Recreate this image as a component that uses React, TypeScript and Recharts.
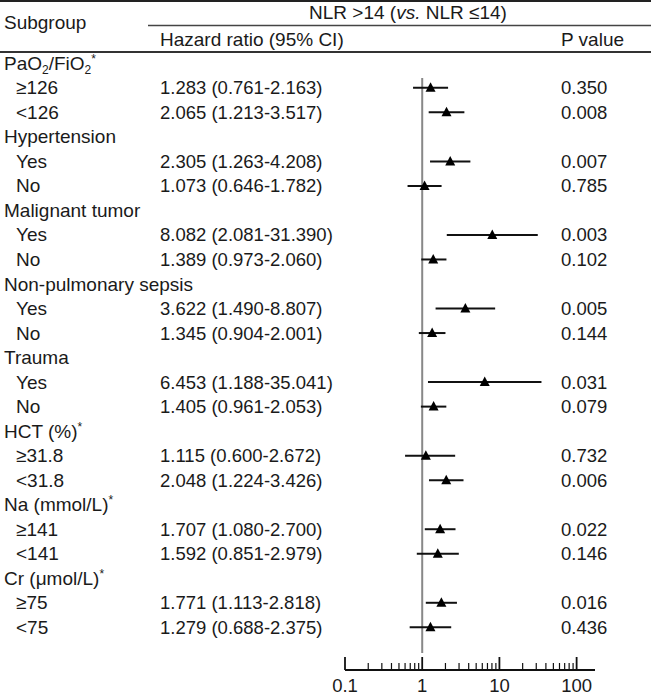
import React from 'react';
import { ComposedChart, Scatter, XAxis, YAxis, ErrorBar, ReferenceLine } from 'recharts';

const subgroups = [
  'PaO_2/FiO_2^*', '≥126', '<126',
  'Hypertension', 'Yes', 'No',
  'Malignant tumor', 'Yes', 'No',
  'Non-pulmonary sepsis', 'Yes', 'No',
  'Trauma', 'Yes', 'No',
  'HCT (%)^*', '≥31.8', '<31.8',
  'Na (mmol/L)^*', '≥141', '<141',
  'Cr (μmol/L)^*', '≥75', '<75',
];
const isGroupHeader = [
  true, false, false, true, false, false, true, false, false, true, false, false,
  true, false, false, true, false, false, true, false, false, true, false, false,
];
const hazardRatios = [null, 1.283, 2.065, null, 2.305, 1.073, null, 8.082, 1.389, null, 3.622, 1.345,
  null, 6.453, 1.405, null, 1.115, 2.048, null, 1.707, 1.592, null, 1.771, 1.279];
const ciLower = [null, 0.761, 1.213, null, 1.263, 0.646, null, 2.081, 0.973, null, 1.49, 0.904,
  null, 1.188, 0.961, null, 0.6, 1.224, null, 1.08, 0.851, null, 1.113, 0.688];
const ciUpper = [null, 2.163, 3.517, null, 4.208, 1.782, null, 31.39, 2.06, null, 8.807, 2.001,
  null, 35.041, 2.053, null, 2.672, 3.426, null, 2.7, 2.979, null, 2.818, 2.375];
const pValues = ['', '0.350', '0.008', '', '0.007', '0.785', '', '0.003', '0.102', '', '0.005', '0.144',
  '', '0.031', '0.079', '', '0.732', '0.006', '', '0.022', '0.146', '', '0.016', '0.436'];
const majorTicks = [0.1, 1, 10, 100];
const minorTicks = [0.2, 0.3, 0.4, 0.5, 0.6, 0.7, 0.8, 0.9, 2, 3, 4, 5, 6, 7, 8, 9, 20, 30, 40, 50, 60, 70, 80, 90];

const FONT = '"Liberation Sans", Arial, Helvetica, sans-serif';
const FS = 19;
const FSN = 18.5;
const TXT = '#1a1a1a';

const rowIdx = subgroups.map((_, i) => i);
const data = rowIdx
  .filter((i) => hazardRatios[i] != null)
  .map((i) => ({
    row: i,
    hr: hazardRatios[i] as number,
    err: [(hazardRatios[i] as number) - (ciLower[i] as number), (ciUpper[i] as number) - (hazardRatios[i] as number)],
  }));
const allTicks = [...majorTicks, ...minorTicks].sort((a, b) => a - b);

function renderLabel(label: string) {
  const parts: React.ReactNode[] = [];
  let buf = '';
  let shift = 0;
  let k = 0;
  const push = (text: string, dy: number, small: boolean) => {
    const p: any = { key: k++ };
    if (dy !== 0) p.dy = dy;
    if (small) p.fontSize = 12;
    parts.push(<tspan {...p}>{text}</tspan>);
  };
  for (let i = 0; i < label.length; i++) {
    const c = label[i];
    if (c === '_' || c === '^') {
      if (buf) { push(buf, -shift, false); shift = 0; buf = ''; }
      const d = c === '_' ? 4 : -7;
      push(label[i + 1], d - shift, true);
      shift = d;
      i++;
    } else {
      buf += c;
    }
  }
  if (buf) push(buf, -shift, false);
  return parts;
}

const RowTick = (props: any) => {
  const { y, payload } = props;
  const i = payload.value as number;
  const hr = hazardRatios[i];
  const by = y + 6.5;
  return (
    <g fontFamily={FONT} fill={TXT}>
      <text x={isGroupHeader[i] ? 4 : 16} y={by} fontSize={FS}>{renderLabel(subgroups[i])}</text>
      {hr != null && (
        <text x={160} y={by} fontSize={FSN}>
          {`${hr.toFixed(3)} (${(ciLower[i] as number).toFixed(3)}-${(ciUpper[i] as number).toFixed(3)})`}
        </text>
      )}
      {pValues[i] && <text x={561} y={by} fontSize={FSN}>{pValues[i]}</text>}
    </g>
  );
};

const AxisTick = (props: any) => {
  const { x, y, payload } = props;
  const v = payload.value as number;
  const major = majorTicks.includes(v);
  return (
    <g>
      <line x1={x} x2={x} y1={y} y2={y - (major ? 13 : 7)} stroke="#111" strokeWidth={major ? 1.8 : 1.2} />
      {major && (
        <text x={x} y={y + 21.5} textAnchor="middle" fontFamily={FONT} fontSize={FSN} fill={TXT}>
          {String(v)}
        </text>
      )}
    </g>
  );
};

const Triangle = (props: any) => {
  const { cx, cy } = props;
  if (cx == null || cy == null) return null;
  return <path d={`M${cx - 5},${cy + 4} L${cx + 5},${cy + 4} L${cx},${cy - 5.5} Z`} fill="#000" />;
};

export default function App() {
  return (
    <div style={{ position: 'absolute', left: 0, top: 0, width: 651, height: 695, background: '#fff', overflow: 'hidden' }}>
      <ComposedChart width={651} height={695} margin={{ top: 52, right: 56, bottom: 0, left: 0 }}>
        <XAxis
          type="number"
          dataKey="hr"
          scale="log"
          domain={[0.1, 173]}
          allowDataOverflow
          ticks={allTicks}
          interval={0}
          tickSize={0}
          tickMargin={0}
          tickLine={false}
          height={25}
          axisLine={{ stroke: '#111', strokeWidth: 2 }}
          tick={<AxisTick />}
        />
        <YAxis
          type="number"
          dataKey="row"
          domain={[-0.461, 24.741]}
          allowDataOverflow
          reversed
          ticks={rowIdx}
          interval={0}
          width={345}
          tickSize={0}
          tickMargin={0}
          tickLine={false}
          axisLine={false}
          tick={<RowTick />}
        />
        <ReferenceLine
          segment={[{ x: 1, y: 0.6 }, { x: 1, y: 24.05 }]}
          stroke="#888"
          strokeWidth={2}
          ifOverflow="visible"
        />
        <Scatter data={data} shape={<Triangle />} isAnimationActive={false}>
          <ErrorBar dataKey="err" direction="x" width={0} stroke="#111" strokeWidth={2} />
        </Scatter>
      </ComposedChart>
      <svg width={651} height={60} style={{ position: 'absolute', left: 0, top: 0, pointerEvents: 'none' }}>
        <line x1={0} x2={651} y1={1} y2={1} stroke="#222" strokeWidth={2} />
        <text x={408} y={19} textAnchor="middle" fontFamily={FONT} fontSize={FS} fill={TXT}>
          NLR &gt;14 (<tspan fontStyle="italic">vs.</tspan> NLR ≤14)
        </text>
        <line x1={148} x2={651} y1={25.5} y2={25.5} stroke="#444" strokeWidth={1.5} />
        <text x={4} y={29} fontFamily={FONT} fontSize={FS} fill={TXT}>Subgroup</text>
        <text x={160} y={46} fontFamily={FONT} fontSize={FS} fill={TXT}>Hazard ratio (95% CI)</text>
        <text x={561} y={46} fontFamily={FONT} fontSize={FS} fill={TXT}>P value</text>
        <line x1={0} x2={651} y1={52} y2={52} stroke="#333" strokeWidth={2} />
      </svg>
    </div>
  );
}
